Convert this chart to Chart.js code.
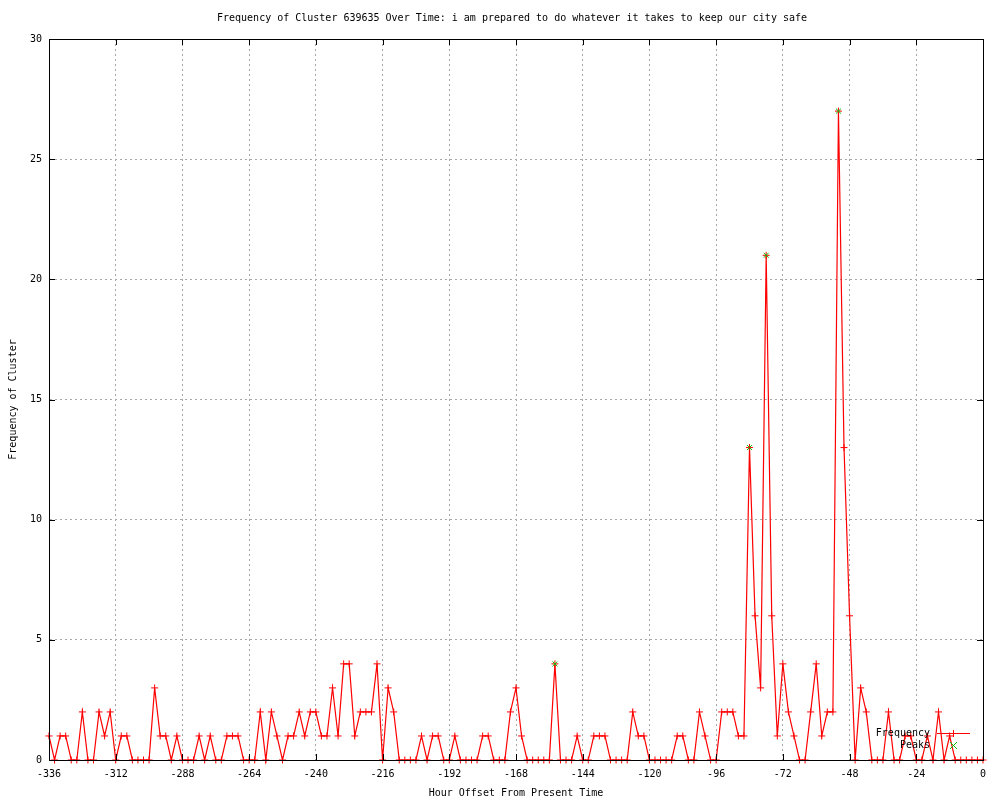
<!DOCTYPE html>
<html>
<head>
<meta charset="utf-8">
<title>Frequency of Cluster 639635 Over Time</title>
<script src="https://cdn.jsdelivr.net/npm/chart.js@4.4.1/dist/chart.umd.min.js"></script>
<style>
    html, body { margin: 0; padding: 0; background: #ffffff; }
    canvas { display: block; }
</style>
</head>
<body>
<canvas id="clusterChart" width="1000" height="800"></canvas>
<script>

// =========================
// Data
// =========================

// hour offsets, one sample every 2 hours from -336 to 0
const hourOffsets = [];
for (let h = -336; h <= 0; h += 2) {
    hourOffsets.push(h);
}

const frequency = [
    1, 0, 1, 1, 0, 0, 2, 0, 0, 2, 1, 2, 0, 1, 1, 0, 0, 0, 0, 3,
    1, 1, 0, 1, 0, 0, 0, 1, 0, 1, 0, 0, 1, 1, 1, 0, 0, 0, 2, 0,
    2, 1, 0, 1, 1, 2, 1, 2, 2, 1, 1, 3, 1, 4, 4, 1, 2, 2, 2, 4,
    0, 3, 2, 0, 0, 0, 0, 1, 0, 1, 1, 0, 0, 1, 0, 0, 0, 0, 1, 1,
    0, 0, 0, 2, 3, 1, 0, 0, 0, 0, 0, 4, 0, 0, 0, 1, 0, 0, 1, 1,
    1, 0, 0, 0, 0, 2, 1, 1, 0, 0, 0, 0, 0, 1, 1, 0, 0, 2, 1, 0,
    0, 2, 2, 2, 1, 1, 13, 6, 3, 21, 6, 1, 4, 2, 1, 0, 0, 2, 4, 1,
    2, 2, 27, 13, 6, 0, 3, 2, 0, 0, 0, 2, 0, 0, 1, 1, 0, 0, 1, 0,
    2, 0, 1, 0, 0, 0, 0, 0, 0
];

const peakHours = [-154, -84, -78, -52];
const peakValues = [4, 13, 21, 27];

const xTicks = { min: -336, max: 0, step: 24 };
const yTicks = { min: 0, max: 30, step: 5 };

const titleText =
    "Frequency of Cluster 639635 Over Time: i am prepared to do whatever it takes to keep our city safe";

// =========================
// Styles
// =========================

const monoFont = "'DejaVu Sans Mono', 'Liberation Mono', monospace";
const lineRed = "#ff0000";
const peakGreen = "#00c000";

// =========================
// gnuplot-like title, frame, inward ticks and key
// =========================

const gnuplotFrame = {
    id: "gnuplotFrame",

    afterDatasetsDraw(chart) {

        const ctx = chart.ctx;
        const area = chart.chartArea;
        const xScale = chart.scales.x;
        const yScale = chart.scales.y;

        ctx.save();

        // title, centred over the plot area
        ctx.fillStyle = "#000000";
        ctx.font = "10px " + monoFont;
        ctx.textAlign = "center";
        ctx.textBaseline = "middle";
        ctx.fillText(titleText, (area.left + area.right) / 2 - 4, area.top - 21);

        ctx.strokeStyle = "#000000";
        ctx.lineWidth = 1;

        // border
        ctx.strokeRect(
            Math.round(area.left) + 0.5,
            Math.round(area.top) + 0.5,
            Math.round(area.right - area.left),
            Math.round(area.bottom - area.top)
        );

        // inward ticks
        ctx.beginPath();
        xScale.ticks.forEach(t => {
            const px = Math.round(xScale.getPixelForValue(t.value)) + 0.5;
            ctx.moveTo(px, area.bottom);
            ctx.lineTo(px, area.bottom - 6);
            ctx.moveTo(px, area.top);
            ctx.lineTo(px, area.top + 6);
        });
        yScale.ticks.forEach(t => {
            const py = Math.round(yScale.getPixelForValue(t.value)) + 0.5;
            ctx.moveTo(area.left, py);
            ctx.lineTo(area.left + 6, py);
            ctx.moveTo(area.right, py);
            ctx.lineTo(area.right - 6, py);
        });
        ctx.stroke();

        // key
        const keyRight = area.right - 53;
        const row1 = Math.round(area.bottom - 27);
        const row2 = Math.round(area.bottom - 15);
        const sampleLeft = Math.round(area.right - 46);
        const sampleRight = Math.round(area.right - 13);
        const sampleMid = Math.round(area.right - 30);

        ctx.fillStyle = "#000000";
        ctx.textAlign = "right";
        ctx.fillText("Frequency", keyRight, row1);
        ctx.fillText("Peaks", keyRight, row2);

        ctx.fillStyle = lineRed;
        ctx.fillRect(sampleLeft, row1, sampleRight - sampleLeft, 1);
        ctx.fillRect(sampleMid - 3, row1, 7, 1);
        ctx.fillRect(sampleMid, row1 - 3, 1, 7);

        ctx.strokeStyle = peakGreen;
        ctx.beginPath();
        ctx.moveTo(sampleMid - 3, row2 - 3);
        ctx.lineTo(sampleMid + 4, row2 + 4);
        ctx.moveTo(sampleMid + 4, row2 - 3);
        ctx.lineTo(sampleMid - 3, row2 + 4);
        ctx.stroke();

        ctx.restore();
    }
};

// =========================
// Chart
// =========================

const ctx = document.getElementById("clusterChart");

new Chart(ctx, {
    type: "line",
    data: {
        datasets: [
            {
                label: "Frequency",
                data: hourOffsets.map((h, i) => ({ x: h, y: frequency[i] })),
                borderColor: lineRed,
                borderWidth: 1.2,
                tension: 0,
                fill: false,
                pointStyle: "cross",
                pointRadius: 3.5,
                pointBorderColor: lineRed,
                pointBorderWidth: 1,
                clip: false,
                order: 2
            },
            {
                label: "Peaks",
                data: peakHours.map((h, i) => ({ x: h, y: peakValues[i] })),
                showLine: false,
                pointStyle: "crossRot",
                pointRadius: 3.5,
                pointBorderColor: peakGreen,
                pointBorderWidth: 1,
                clip: false,
                order: 1
            }
        ]
    },
    options: {
        responsive: false,
        animation: false,
        devicePixelRatio: 1,
        layout: {
            padding: { left: 0, right: 17, top: 39, bottom: 0 }
        },
        plugins: {
            legend: { display: false },
            tooltip: { enabled: false },
            title: { display: false }
        },
        scales: {
            x: {
                type: "linear",
                min: xTicks.min,
                max: xTicks.max,
                ticks: {
                    stepSize: xTicks.step,
                    color: "#000000",
                    font: { family: monoFont, size: 10 },
                    padding: 8,
                    maxRotation: 0,
                    autoSkip: false
                },
                grid: {
                    color: "#a8a8a8",
                    lineWidth: 1,
                    drawTicks: false
                },
                border: { display: true, color: "#000000", dash: [2, 3] },
                title: {
                    display: true,
                    text: "Hour Offset From Present Time",
                    color: "#000000",
                    font: { family: monoFont, size: 10 },
                    padding: { top: 0, bottom: 1 }
                },
                afterFit(scale) {
                    scale.height = 40;
                }
            },
            y: {
                min: yTicks.min,
                max: yTicks.max,
                ticks: {
                    stepSize: yTicks.step,
                    color: "#000000",
                    font: { family: monoFont, size: 10 },
                    padding: 7
                },
                grid: {
                    color: "#a8a8a8",
                    lineWidth: 1,
                    drawTicks: false
                },
                border: { display: true, color: "#000000", dash: [2, 3] },
                title: {
                    display: true,
                    text: "Frequency of Cluster",
                    color: "#000000",
                    font: { family: monoFont, size: 10 },
                    padding: { top: 7, bottom: 0 }
                },
                afterFit(scale) {
                    scale.width = 49;
                }
            }
        }
    },
    plugins: [gnuplotFrame]
});

</script>
</body>
</html>
